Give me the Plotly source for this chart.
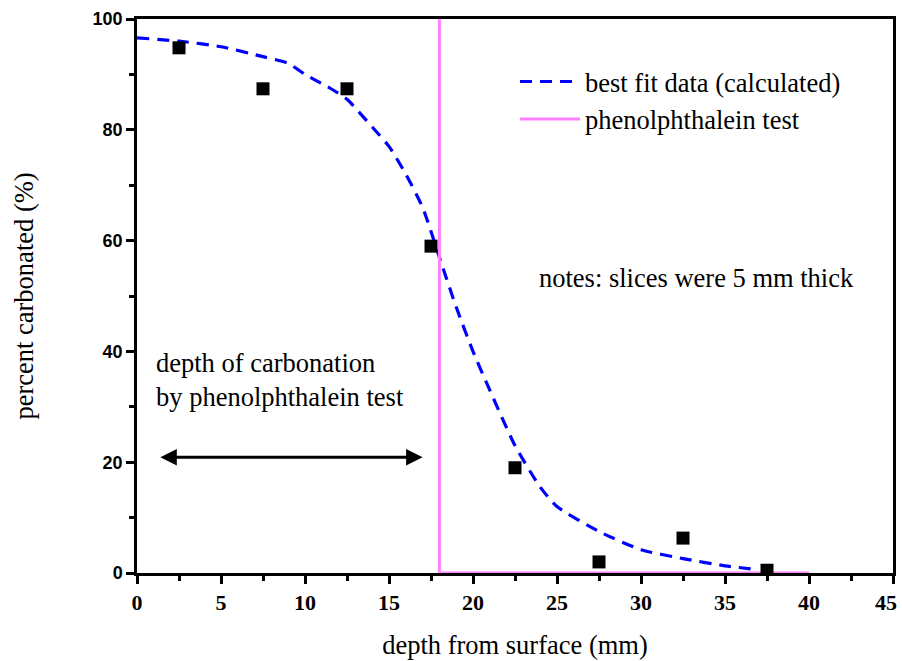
import plotly.graph_objects as go

# measured data (squares)
depth_pts = [2.5, 7.5, 12.5, 17.5, 22.5, 27.5, 32.5, 37.5]
carb_pts = [94.8, 87.4, 87.4, 59.0, 19.0, 2.0, 6.3, 0.5]

# best fit curve
fit_x = [0, 2.5, 5, 7.5, 9, 10, 11.5, 12.5, 14, 15, 16, 17, 18, 19, 20, 21, 22.5, 24, 25, 27.5, 30, 32.5, 35, 37]
fit_y = [96.6, 96.0, 95.0, 93.2, 92.0, 90.0, 87.5, 85.5, 80.5, 77.0, 72.0, 66.0, 57.0, 48.0, 40.0, 33.0, 23.0, 15.5, 12.0, 7.5, 4.2, 2.6, 1.3, 0.6]

# phenolphthalein test line
phen_x = [18, 18, 40]
phen_y = [100, 0, 0]

# tick labels (last label drawn separately so it stays inside the page)
x_tickvals = [0, 5, 10, 15, 20, 25, 30, 35, 40, 45]
x_ticktext = ["0", "5", "10", "15", "20", "25", "30", "35", "40", ""]
x_last_label = "45"
y_tickvals = [0, 20, 40, 60, 80, 100]

serif = "Liberation Serif, Times New Roman, serif"
sans = "Liberation Sans, Arial, sans-serif"

fig = go.Figure()
fig.add_trace(go.Scatter(x=fit_x, y=fit_y, mode="lines", name="best fit data (calculated)",
                         line=dict(color="#0000FF", width=3.2, dash="12px,8px", shape="spline", smoothing=0.6)))
fig.add_trace(go.Scatter(x=phen_x, y=phen_y, mode="lines", name="phenolphthalein test",
                         line=dict(color="#FF80FF", width=3)))
fig.add_trace(go.Scatter(x=depth_pts, y=carb_pts, mode="markers", showlegend=False,
                         marker=dict(symbol="square", size=13, color="black")))

fig.add_annotation(x=17, y=20.9, ax=1.3, ay=20.9, xref="x", yref="y", axref="x", ayref="y",
                   text="", showarrow=True, arrowhead=2, startarrowhead=2, arrowside="end+start",
                   arrowwidth=3, arrowsize=1.1, startarrowsize=1.1, arrowcolor="black")
fig.add_annotation(x=1.0, y=34.8, xref="x", yref="y", xanchor="left", yanchor="middle",
                   text="depth of carbonation<br>by phenolphthalein test", showarrow=False, align="left",
                   font=dict(family=serif, size=26.5, color="black"))
fig.add_annotation(x=23.8, y=53.2, xref="x", yref="y", xanchor="left", yanchor="middle",
                   text="notes: slices were 5 mm thick", showarrow=False,
                   font=dict(family=serif, size=26.5, color="black"))
fig.add_annotation(x=x_tickvals[-1], y=0, xref="x", yref="y", xanchor="right", yanchor="middle",
                   xshift=5, yshift=-29, text=x_last_label, showarrow=False, borderpad=0,
                   font=dict(family=serif, size=22, color="black", weight="bold"))

fig.update_layout(
    width=902, height=661, autosize=False,
    margin=dict(l=137, r=9, t=19, b=88),
    plot_bgcolor="white", paper_bgcolor="white",
    legend=dict(x=0.5, y=0.93, xanchor="left", yanchor="top", bgcolor="rgba(0,0,0,0)",
                font=dict(family=serif, size=26.5, color="black"), tracegroupgap=0, itemwidth=60),
    xaxis=dict(range=[0, 45], tickvals=x_tickvals, ticktext=x_ticktext, automargin=False,
               ticks="outside", ticklen=8, tickwidth=2.5, tickcolor="black",
               minor=dict(tickvals=[2.5, 7.5, 12.5, 17.5, 22.5, 27.5, 32.5, 37.5, 42.5],
                          ticks="outside", ticklen=5, tickwidth=2.5, tickcolor="black"),
               showline=True, linecolor="black", linewidth=2.5, mirror=True, showgrid=False, zeroline=False,
               tickfont=dict(family=serif, size=22, color="black", weight="bold"),
               title=dict(text="depth from surface (mm)", font=dict(family=serif, size=26.5, color="black"), standoff=22)),
    yaxis=dict(range=[0, 100], tickvals=y_tickvals, automargin=False,
               ticks="outside", ticklen=8, tickwidth=2.5, tickcolor="black",
               minor=dict(tickvals=[10, 30, 50, 70, 90], ticks="outside", ticklen=5, tickwidth=2.5, tickcolor="black"),
               showline=True, linecolor="black", linewidth=2.5, mirror=True, showgrid=False, zeroline=False,
               tickfont=dict(family=sans, size=18, color="black", weight="bold"),
               title=dict(text="percent carbonated (%)", font=dict(family=serif, size=26.5, color="black"), standoff=52)),
)

fig.write_html("out.html",
               config={"responsive": False, "displayModeBar": False},
               post_script="document.body.style.margin='0';document.body.style.overflow='hidden';")
